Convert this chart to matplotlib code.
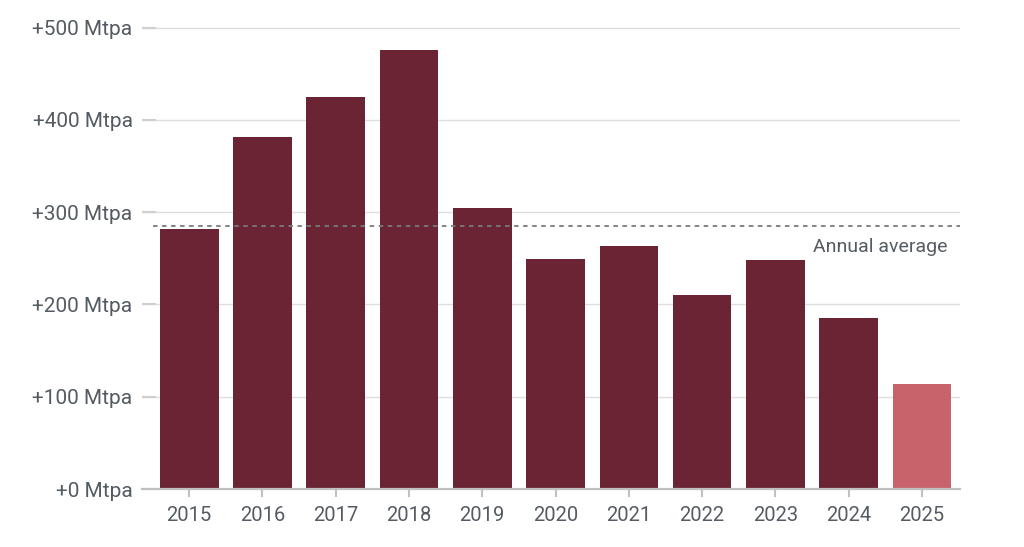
import numpy as np
import matplotlib.pyplot as plt

plt.rcParams['font.family'] = ['Roboto', 'DejaVu Sans']

# 数据
years = ['2015', '2016', '2017', '2018', '2019', '2020', '2021', '2022', '2023', '2024', '2025']
values = [282, 381, 425, 476, 304, 249, 263, 210, 248, 185, 114]
bar_colors = ['#6b2433'] * 10 + ['#c9636b']
annual_avg = 285
yticks = [0, 100, 200, 300, 400, 500]
ytick_labels = ['+%d Mtpa' % v for v in yticks]

text_col = '#555b63'

fig = plt.figure(figsize=(10.24, 5.47), dpi=100)
ax = fig.add_axes([0.139, 0.106, 0.7985, 0.857])

x = np.arange(len(years))
ax.bar(x, values, width=0.8, color=bar_colors, zorder=2)

ax.plot([-0.5, 10.52], [annual_avg, annual_avg], color='#7a7a7a',
        linestyle=(0, (2.5, 2.5)), linewidth=1.3, zorder=3)
ax.text(10.35, annual_avg - 23, 'Annual average', ha='right', va='center',
        fontsize=14, color=text_col)

ax.set_xlim(-0.64, 10.52)
ax.set_ylim(0, 508)
ax.set_xticks(x)
ax.set_xticklabels(years)
ax.set_yticks(yticks)
ax.set_yticklabels(ytick_labels)

ax.grid(axis='y', color='#dedede', linewidth=1, zorder=0)
for s in ['top', 'right', 'left']:
    ax.spines[s].set_visible(False)
ax.spines['bottom'].set_color('#c0c0c0')
ax.spines['bottom'].set_linewidth(1.6)

ax.tick_params(axis='y', direction='in', length=10, width=1.5, color='#cfcfcf',
               labelsize=15, labelcolor=text_col, pad=7)
ax.tick_params(axis='x', length=6, width=1.5, color='#c0c0c0', labelsize=14.5,
               labelcolor=text_col, pad=6)

plt.savefig('out.png', dpi=100)
